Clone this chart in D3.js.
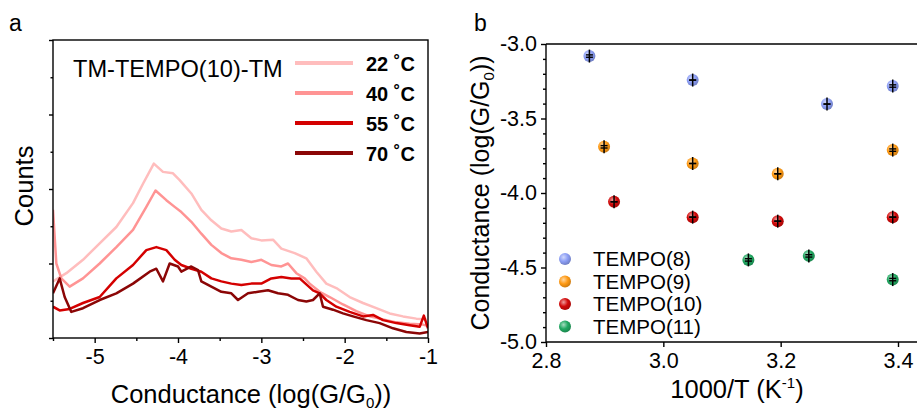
<!DOCTYPE html>
<html>
<head>
<meta charset="utf-8">
<script src="https://cdn.jsdelivr.net/npm/d3@7"></script>
<style>
  body { margin: 0; background: #fff; }
  svg { font-family: "Liberation Sans", Arial, sans-serif; }
</style>
</head>
<body>
<svg width="917" height="412"></svg>
<script>
const svg = d3.select("svg");

// ---- panel a data: conductance histograms (x = log(G/G0), y = counts, a.u.)
const temps = ["22 ˚C", "40 ˚C", "55 ˚C", "70 ˚C"];
const tempColors = ["#ffbdbd", "#ff9494", "#d40000", "#8b0606"];
const hist22 = [[-5.50,0.76],[-5.34,0.87],[-5.14,1.05],[-4.94,1.27],[-4.74,1.49],[-4.54,1.81],[-4.42,2.07],[-4.29,2.34],[-4.18,2.23],[-4.06,2.21],[-3.98,2.12],[-3.84,1.94],[-3.72,1.72],[-3.60,1.58],[-3.48,1.47],[-3.36,1.43],[-3.24,1.45],[-3.12,1.34],[-3.00,1.31],[-2.86,1.32],[-2.76,1.20],[-2.60,1.14],[-2.46,1.07],[-2.34,0.89],[-2.22,0.73],[-2.10,0.67],[-1.94,0.55],[-1.78,0.47],[-1.62,0.40],[-1.46,0.33],[-1.30,0.29],[-1.14,0.26],[-1.02,0.25]];
const hist40 = [[-5.50,1.72],[-5.46,1.00],[-5.40,0.80],[-5.30,0.69],[-5.14,0.80],[-4.94,1.00],[-4.74,1.22],[-4.54,1.45],[-4.38,1.76],[-4.27,1.98],[-4.14,1.85],[-4.04,1.76],[-3.96,1.69],[-3.84,1.56],[-3.72,1.40],[-3.60,1.25],[-3.48,1.14],[-3.36,1.07],[-3.24,1.05],[-3.12,1.02],[-3.00,1.05],[-2.88,0.98],[-2.76,0.96],[-2.68,1.00],[-2.58,0.87],[-2.48,0.80],[-2.42,0.73],[-2.30,0.62],[-2.18,0.55],[-2.02,0.45],[-1.86,0.36],[-1.70,0.29],[-1.54,0.25],[-1.38,0.21],[-1.22,0.19],[-1.06,0.18],[-1.00,0.16]];
const hist55 = [[-5.50,0.42],[-5.42,0.37],[-5.30,0.39],[-5.14,0.47],[-4.94,0.55],[-4.74,0.80],[-4.54,0.98],[-4.38,1.18],[-4.26,1.22],[-4.14,1.18],[-4.04,1.05],[-3.96,0.98],[-3.84,0.93],[-3.72,0.89],[-3.60,0.80],[-3.48,0.76],[-3.36,0.73],[-3.24,0.71],[-3.12,0.73],[-3.00,0.73],[-2.88,0.80],[-2.76,0.82],[-2.64,0.80],[-2.54,0.80],[-2.38,0.64],[-2.30,0.60],[-2.22,0.51],[-2.10,0.42],[-1.94,0.35],[-1.78,0.29],[-1.66,0.31],[-1.54,0.24],[-1.38,0.20],[-1.22,0.17],[-1.10,0.15],[-1.05,0.30],[-1.00,0.13]];
const hist70 = [[-5.50,0.60],[-5.42,0.80],[-5.36,0.55],[-5.28,0.35],[-5.14,0.40],[-4.94,0.51],[-4.74,0.60],[-4.54,0.73],[-4.34,0.89],[-4.26,0.93],[-4.18,0.76],[-4.10,1.00],[-4.00,0.96],[-3.96,0.89],[-3.84,0.96],[-3.76,0.91],[-3.72,0.76],[-3.60,0.69],[-3.48,0.62],[-3.36,0.60],[-3.28,0.51],[-3.16,0.60],[-3.04,0.62],[-2.92,0.64],[-2.80,0.60],[-2.68,0.58],[-2.56,0.51],[-2.46,0.49],[-2.38,0.51],[-2.30,0.60],[-2.26,0.42],[-2.14,0.38],[-2.02,0.33],[-1.90,0.29],[-1.74,0.24],[-1.58,0.20],[-1.42,0.13],[-1.26,0.08],[-1.10,0.06],[-1.00,0.08]];
const histTicks = [-5, -4, -3, -2, -1];

// ---- panel b data: conductance vs 1000/T
const series = ["TEMPO(8)", "TEMPO(9)", "TEMPO(10)", "TEMPO(11)"];
const seriesColors = ["#8c9ef5", "#ff9a14", "#d20a0a", "#22a862"];
const invT8 = [2.874, 3.050, 3.279, 3.391];
const cond8 = [-3.081, -3.242, -3.403, -3.282];
const err8 = [0.008, 0.0, 0.0, 0.008];
const invT9 = [2.899, 3.050, 3.195, 3.391];
const cond9 = [-3.690, -3.802, -3.871, -3.712];
const err9 = [0.008, 0.0, 0.0, 0.008];
const invT10 = [2.916, 3.050, 3.195, 3.391];
const cond10 = [-4.059, -4.162, -4.189, -4.162];
const err10 = [0.0, 0.0, 0.0, 0.0];
const invT11 = [3.145, 3.248, 3.391];
const cond11 = [-4.449, -4.422, -4.581];
const err11 = [0.008, 0.008, 0.008];
const condTicks = [-3.0, -3.5, -4.0, -4.5, -5.0];
const invTTicks = [2.8, 3.0, 3.2, 3.4];

// ================= panel a =================
const ax = d3.scaleLinear().domain([-5.5, -1]).range([53, 428]);
const ay = d3.scaleLinear().domain([0, 4]).range([338, 40]);

svg.append("text").attr("x", 9).attr("y", 31).attr("font-size", 23).text("a");

svg.append("clipPath").attr("id", "clipA")
  .append("rect").attr("x", 53).attr("y", 40).attr("width", 375).attr("height", 298);

const line = d3.line().x(d => ax(d[0])).y(d => ay(d[1]));
const hists = [hist22, hist40, hist55, hist70];
svg.append("g").attr("clip-path", "url(#clipA)")
  .selectAll("path").data(hists).join("path")
  .attr("d", line)
  .attr("fill", "none")
  .attr("stroke", (d, i) => tempColors[i])
  .attr("stroke-width", 2.5)
  .attr("stroke-linejoin", "round");

// frame
svg.append("rect").attr("x", 53).attr("y", 40).attr("width", 375).attr("height", 298)
  .attr("fill", "none").attr("stroke", "#000").attr("stroke-width", 1.4);

const axA = svg.append("g").attr("transform", "translate(0,338)")
  .call(d3.axisBottom(ax).tickValues(histTicks).tickSize(5).tickPadding(6).tickFormat(d3.format("d")));
svg.append("g").attr("transform", "translate(0,338)")
  .call(d3.axisBottom(ax).tickValues([-5.5, -4.5, -3.5, -2.5, -1.5]).tickSize(3).tickFormat(""));
svg.append("g").attr("transform", "translate(53,0)")
  .call(d3.axisLeft(ay).tickValues([0, 1, 2, 3, 4]).tickSize(4).tickFormat(""));
svg.append("g").attr("transform", "translate(53,0)")
  .call(d3.axisLeft(ay).tickValues([0.5, 1.5, 2.5, 3.5]).tickSize(2.5).tickFormat(""));
svg.selectAll(".domain").remove();
svg.selectAll(".tick line").attr("stroke", "#000").attr("stroke-width", 1.4);
axA.selectAll(".tick text").attr("font-size", 21.5).attr("fill", "#000")
  .attr("font-family", "Liberation Sans, Arial, sans-serif")
  .text(d => "-" + Math.abs(d));

svg.append("text").attr("transform", "translate(33,186) rotate(-90)")
  .attr("text-anchor", "middle").attr("font-size", 25.5).text("Counts");

const xlabA = svg.append("text").attr("x", 251).attr("y", 403)
  .attr("text-anchor", "middle").attr("font-size", 25.5);
xlabA.append("tspan").text("Conductance (log(G/G");
xlabA.append("tspan").attr("font-size", 15).attr("dy", 5).text("0");
xlabA.append("tspan").attr("dy", -5).text("))");

// legend a
svg.append("text").attr("x", 73).attr("y", 77).attr("font-size", 23.6).text("TM-TEMPO(10)-TM");
const legA = svg.append("g").selectAll("g").data(temps).join("g")
  .attr("transform", (d, i) => `translate(295,${63 + i * 30})`);
legA.append("line").attr("x1", 0).attr("x2", 58)
  .attr("stroke", (d, i) => tempColors[i]).attr("stroke-width", 4);
legA.append("text").attr("x", 71).attr("y", 8).attr("font-size", 20)
  .attr("font-weight", "bold").text(d => d);

// ================= panel b =================
const bx = d3.scaleLinear().domain([2.8, 3.4]).range([546, 898]);
const by = d3.scaleLinear().domain([-5, -3]).range([342, 44]);

svg.append("text").attr("x", 474).attr("y", 31).attr("font-size", 23).text("b");

svg.append("line").attr("x1", 546).attr("x2", 917).attr("y1", 44).attr("y2", 44)
  .attr("stroke", "#000").attr("stroke-width", 1.4);
svg.append("line").attr("x1", 546).attr("x2", 917).attr("y1", 342).attr("y2", 342)
  .attr("stroke", "#000").attr("stroke-width", 1.4);
svg.append("line").attr("x1", 546).attr("x2", 546).attr("y1", 44).attr("y2", 342)
  .attr("stroke", "#000").attr("stroke-width", 1.4);

const axBx = svg.append("g").attr("class", "b").attr("transform", "translate(0,342)")
  .call(d3.axisBottom(bx).tickValues(invTTicks).tickSize(5).tickPadding(6).tickFormat(d3.format(".1f")));
const axBy = svg.append("g").attr("class", "b").attr("transform", "translate(546,0)")
  .call(d3.axisLeft(by).tickValues(condTicks).tickSize(5).tickPadding(4).tickFormat(d3.format(".1f")));
svg.append("g").attr("class", "b").attr("transform", "translate(546,0)")
  .call(d3.axisLeft(by).tickValues(d3.range(-4.9, -3.0, 0.1).filter(v => Math.abs(v * 2 - Math.round(v * 2)) > 0.01))
    .tickSize(3).tickFormat(""));
svg.selectAll("g.b .domain").remove();
svg.selectAll("g.b .tick line").attr("stroke", "#000").attr("stroke-width", 1.4);
svg.selectAll("g.b .tick text").attr("font-size", 21.5).attr("fill", "#000")
  .attr("font-family", "Liberation Sans, Arial, sans-serif");
axBy.selectAll(".tick text").text(d => d3.format(".1f")(d).replace("−", "-"));

// sphere gradients
const defs = svg.append("defs");
seriesColors.forEach((c, i) => {
  const g = defs.append("radialGradient").attr("id", "sph" + i)
    .attr("cx", "38%").attr("cy", "35%").attr("r", "65%");
  g.append("stop").attr("offset", "0%").attr("stop-color", d3.interpolateRgb(c, "#fff")(0.6));
  g.append("stop").attr("offset", "55%").attr("stop-color", c);
  g.append("stop").attr("offset", "100%").attr("stop-color", d3.color(c).darker(0.6));
});

const pts = [
  [invT8, cond8, err8], [invT9, cond9, err9], [invT10, cond10, err10], [invT11, cond11, err11]
];
pts.forEach((s, si) => {
  const data = s[0].map((x, j) => ({ x, y: s[1][j], e: s[2][j] }));
  const g = svg.append("g").selectAll("g").data(data).join("g")
    .attr("transform", d => `translate(${bx(d.x)},${by(d.y)})`);
  g.append("circle").attr("r", 6).attr("fill", `url(#sph${si})`);
  g.append("line").attr("y1", -6.5).attr("y2", 6.5).attr("stroke", "#000").attr("stroke-width", 1.5);
  g.append("line").attr("x1", -3.5).attr("x2", 3.5)
    .attr("y1", d => by(d.y + d.e) - by(d.y)).attr("y2", d => by(d.y + d.e) - by(d.y))
    .attr("stroke", "#000").attr("stroke-width", 1.4);
  g.append("line").attr("x1", -3.5).attr("x2", 3.5)
    .attr("y1", d => by(d.y - d.e) - by(d.y)).attr("y2", d => by(d.y - d.e) - by(d.y))
    .attr("stroke", "#000").attr("stroke-width", 1.4);
});

// legend b
const legB = svg.append("g").selectAll("g").data(series).join("g")
  .attr("transform", (d, i) => `translate(565,${259 + i * 22.5})`);
legB.append("circle").attr("r", 6).attr("fill", (d, i) => `url(#sph${i})`);
legB.append("text").attr("x", 28).attr("y", 7).attr("font-size", 20.5).text(d => d);

svg.append("text").attr("transform", "translate(489,193) rotate(-90)")
  .attr("text-anchor", "middle").attr("font-size", 25)
  .call(t => {
    t.append("tspan").text("Conductance (log(G/G");
    t.append("tspan").attr("font-size", 15).attr("dy", 5).text("0");
    t.append("tspan").attr("dy", -5).text("))");
  });

const xlabB = svg.append("text").attr("x", 737).attr("y", 398)
  .attr("text-anchor", "middle").attr("font-size", 25.5);
xlabB.append("tspan").text("1000/T (K");
xlabB.append("tspan").attr("font-size", 15).attr("dy", -10).text("-1");
xlabB.append("tspan").attr("dy", 10).text(")");
</script>
</body>
</html>
